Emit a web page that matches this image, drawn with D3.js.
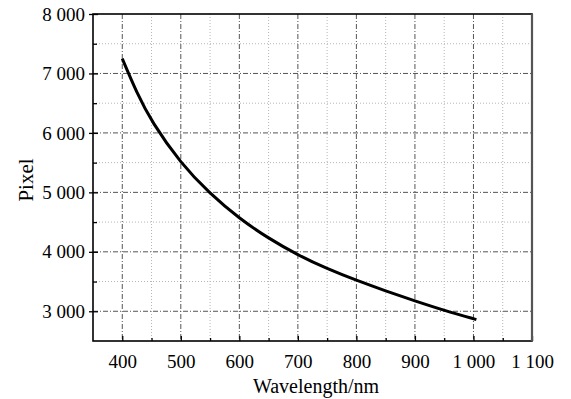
<!DOCTYPE html>
<html>
<head>
<meta charset="utf-8">
<script src="https://cdn.jsdelivr.net/npm/d3@7"></script>
<style>
  body { margin: 0; background: #fff; }
  svg { display: block; }
  .grid-major { stroke: #555; stroke-width: 1; stroke-dasharray: 5,2,1,2; fill: none; }
  .grid-minor { stroke: #b5b5b5; stroke-width: 1; stroke-dasharray: 1,2; fill: none; }
  .axis path { display: none; }
  .axis line { stroke: #000; stroke-width: 1.3; }
</style>
</head>
<body>
<svg id="chart"></svg>
<script>
// curve
const wavelengths = [400, 425, 450, 500, 550, 600, 650, 700, 750, 800, 850, 900, 950, 1005];
const pixels = [7250, 6670, 6190, 5485, 4975, 4560, 4225, 3945, 3715, 3520, 3342, 3175, 3015, 2860];

const xMajor = [400, 500, 600, 700, 800, 900, 1000, 1100];
const xMinor = [450, 550, 650, 750, 850, 950, 1050];
const yMajor = [3000, 4000, 5000, 6000, 7000, 8000];
const yMinor = [3500, 4500, 5500, 6500, 7500];

const SERIF = "'Liberation Serif', 'Times New Roman', serif";
const W = 571, H = 399;
const margin = {top: 14, right: 39, bottom: 58, left: 93};
const width = W - margin.left - margin.right;
const height = H - margin.top - margin.bottom;

const fmt = d3.formatLocale({decimal: ".", thousands: " ", grouping: [3], currency: ["", ""]}).format(",");

const svg = d3.select("#chart").attr("width", W).attr("height", H);
const g = svg.append("g").attr("transform", "translate(" + margin.left + "," + margin.top + ")");

const x = d3.scaleLinear().domain([350, 1100]).range([0, width]);
const y = d3.scaleLinear().domain([2500, 8000]).range([height, 0]);

// grid
g.selectAll(".vminor").data(xMinor).enter().append("line")
  .attr("class", "grid-minor")
  .attr("x1", d => x(d)).attr("x2", d => x(d))
  .attr("y1", 0).attr("y2", height);
g.selectAll(".hminor").data(yMinor).enter().append("line")
  .attr("class", "grid-minor")
  .attr("y1", d => y(d)).attr("y2", d => y(d))
  .attr("x1", 0).attr("x2", width);
g.selectAll(".vmajor").data(xMajor.filter(d => d < 1100)).enter().append("line")
  .attr("class", "grid-major")
  .attr("x1", d => x(d)).attr("x2", d => x(d))
  .attr("y1", 0).attr("y2", height);
g.selectAll(".hmajor").data(yMajor.filter(d => d < 8000)).enter().append("line")
  .attr("class", "grid-major")
  .attr("y1", d => y(d)).attr("y2", d => y(d))
  .attr("x1", 0).attr("x2", width);

// axes: major ticks cross the frame, minor ticks point inward
const xAx = g.append("g")
  .attr("class", "axis")
  .attr("transform", "translate(0," + height + ")")
  .call(d3.axisBottom(x).tickValues(xMajor).tickFormat(fmt).tickSizeInner(-5).tickPadding(14));
g.append("g")
  .attr("class", "axis")
  .attr("transform", "translate(0," + height + ")")
  .call(d3.axisBottom(x).tickValues(xMinor).tickFormat("").tickSizeInner(-3));
const yAx = g.append("g")
  .attr("class", "axis")
  .call(d3.axisLeft(y).tickValues(yMajor).tickFormat(fmt).tickSizeInner(5).tickPadding(3));
yAx.selectAll("line").attr("x2", 5).attr("x1", -4);
g.append("g")
  .attr("class", "axis")
  .call(d3.axisLeft(y).tickValues(yMinor).tickFormat("").tickSizeInner(-4));

[xAx, yAx].forEach(a => {
  a.attr("font-family", SERIF).attr("font-size", 19);
  a.selectAll("text").attr("fill", "#000");
});

// frame
g.append("rect")
  .attr("width", width).attr("height", height)
  .attr("fill", "none").attr("stroke", "#000").attr("stroke-width", 1.6);
g.append("line")
  .attr("x1", width).attr("x2", width).attr("y1", 0).attr("y2", height)
  .attr("stroke", "#555").attr("stroke-width", 2.2);

// curve
const pts = wavelengths.map((w, i) => [w, pixels[i]]);
g.append("path")
  .datum(pts)
  .attr("fill", "none")
  .attr("stroke", "#000")
  .attr("stroke-width", 3)
  .attr("d", d3.line().x(d => x(d[0])).y(d => y(d[1])).curve(d3.curveBasis));

// titles
svg.append("text")
  .attr("x", 316).attr("y", 393)
  .attr("text-anchor", "middle")
  .attr("font-family", SERIF)
  .attr("font-size", 20)
  .text("Wavelength/nm");
svg.append("text")
  .attr("transform", "translate(33,180) rotate(-90)")
  .attr("text-anchor", "middle")
  .attr("font-family", SERIF)
  .attr("font-size", 21)
  .text("Pixel");
</script>
</body>
</html>
